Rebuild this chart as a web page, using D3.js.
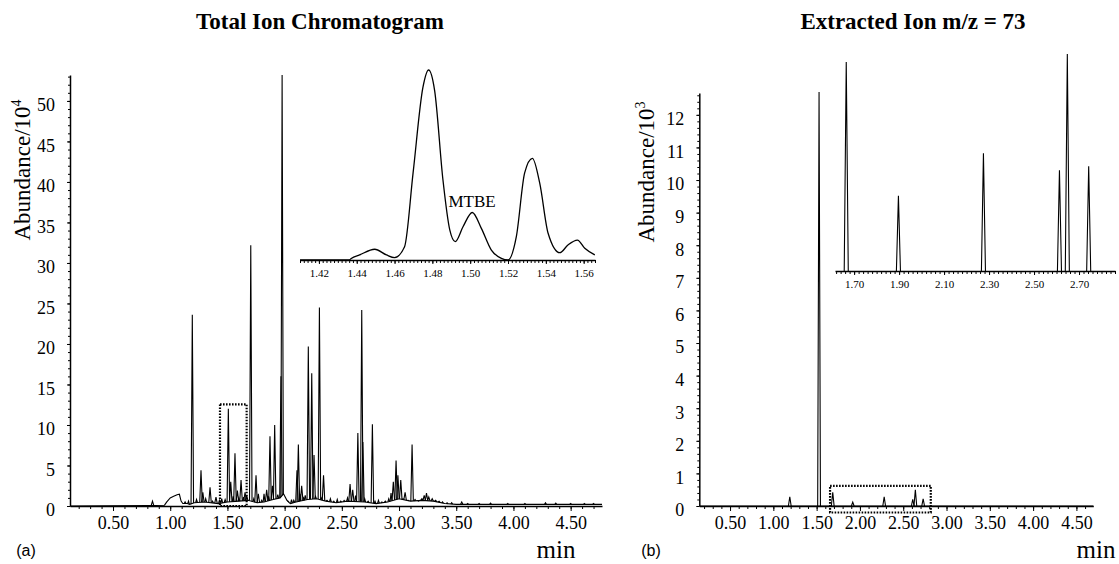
<!DOCTYPE html>
<html>
<head>
<meta charset="utf-8">
<script src="https://cdnjs.cloudflare.com/ajax/libs/d3/7.8.5/d3.min.js"></script>
<style>
body { margin: 0; background: #fff; }
svg text { font-family: "Liberation Serif", "Times New Roman", serif; fill: #000; }
.axis path, .axis line { stroke: #000; }
.axis text { font-family: "Liberation Serif", serif; }
</style>
</head>
<body>
<svg id="chart" width="1119" height="564"></svg>
<script>
// ---- data (a): total ion chromatogram, abundance in 10^4 ----
var ticBaseline = [[0.124,0],[0.80,0.05],[0.95,0.1],[0.97,0.5],[1.00,1.0],[1.03,1.2],[1.06,1.4],[1.08,1.45],
  [1.095,0.6],[1.11,0.3],[1.15,0.3],[1.17,0.2],[1.21,0.4],[1.30,0.5],[1.42,0.3],[1.50,0.5],[1.60,0.6],
  [1.68,0.7],[1.76,0.4],[1.82,0.5],[1.90,0.8],[1.96,1.0],[1.99,1.5],[2.02,0.7],[2.05,0.3],[2.10,0.5],
  [2.20,0.8],[2.28,0.9],[2.36,0.6],[2.45,0.4],[2.55,0.6],[2.70,0.5],[2.80,0.3],[2.90,0.5],[3.00,0.9],
  [3.10,0.6],[3.20,0.7],[3.30,0.6],[3.40,0.3],[3.50,0.2],[4.774,0.2]];
var ticPeaks = [[0.845,0.6],[1.193,23.6],[1.269,4.4],[1.285,1.7],[1.348,2.3],[1.40,1.1],[1.508,12.0],
  [1.529,3.0],[1.566,6.5],[1.587,1.9],[1.619,3.2],[1.654,1.7],[1.668,1.3],[1.704,32.2],[1.75,3.8],
  [1.77,1.5],[1.843,2.0],[1.872,8.6],[1.893,2.5],[1.913,10.0],[1.968,16.0],[1.978,53.2],[2.108,4.4],
  [2.12,7.6],[2.149,2.5],[2.207,19.7],[2.237,16.4],[2.257,6.3],[2.304,24.5],[2.34,3.8],[2.572,2.7],
  [2.595,2.0],[2.64,9.0],[2.674,24.2],[2.684,7.9],[2.767,10.1],[2.95,3.0],[2.974,5.6],[2.99,3.8],
  [3.015,3.2],[3.053,1.7],[3.114,7.6],[3.20,0.9],[3.22,1.3],[3.24,1.6],[3.26,1.1],[3.29,0.9],
  [3.32,0.7],[3.35,0.6],[3.548,0.5]];
var ticNoise = [[1.13,0.5],[1.16,0.6],[1.23,0.8],[1.31,0.9],[1.37,0.6],[1.43,0.7],[1.45,0.9],[1.48,0.8],
  [1.55,1.2],[1.60,1.0],[1.64,1.1],[1.73,0.9],[1.80,0.7],[1.82,1.5],[1.86,1.2],[1.94,1.4],[2.03,0.6],
  [2.06,0.8],[2.08,0.7],[2.135,1.5],[2.165,1.0],[2.18,1.3],[2.27,1.2],[2.32,1.0],[2.37,0.7],[2.40,0.9],
  [2.43,0.6],[2.46,0.8],[2.49,0.6],[2.52,0.7],[2.55,1.0],[2.62,1.3],[2.70,0.9],[2.73,0.6],[2.79,0.6],
  [2.82,0.7],[2.85,0.5],[2.88,0.6],[2.91,0.9],[2.93,1.6],[3.035,0.9],[3.08,0.7],[3.14,0.8],[3.17,0.6],
  [3.38,0.5],[3.42,0.4],[3.46,0.4],[3.60,0.3],[3.70,0.3],[3.80,0.35],[3.95,0.3],[4.10,0.3],[4.28,0.4],
  [4.37,0.35],[4.50,0.3],[4.62,0.3],[4.70,0.3]];
// zoomed trace around MTBE
var ticInset = [[1.410,0],[1.436,0],[1.4371,0.1],[1.4415,0.32],[1.4495,0.68],[1.4557,0.32],[1.460,0.15],
  [1.4653,0.84],[1.4698,5.5],[1.475,10.9],[1.478,12.0],[1.4812,10.7],[1.4856,5.05],[1.4892,1.9],
  [1.4921,1.16],[1.4962,2.1],[1.5011,3.0],[1.5059,2.0],[1.5112,0.63],[1.5165,0.1],[1.520,0],
  [1.5244,1.47],[1.5288,5.5],[1.5329,6.42],[1.5368,4.84],[1.5412,1.69],[1.5474,0.46],[1.5517,0.95],
  [1.5567,1.26],[1.5606,0.74],[1.5659,0.32]];
var ticBox = [1.435, 1.668, 0, 12.55];
var ticTicksX = [0.5, 1.0, 1.5, 2.0, 2.5, 3.0, 3.5, 4.0, 4.5];
var ticTicksY = [0, 5, 10, 15, 20, 25, 30, 35, 40, 45, 50];
var ticInsetTicks = [1.42, 1.44, 1.46, 1.48, 1.50, 1.52, 1.54, 1.56];
var mtbeLabel = [1.501, 3.0, "MTBE"];

// ---- data (b): extracted ion m/z = 73, abundance in 10^3 ----
var ionPeaks = [[1.19,0.28],[1.528,12.7],[1.686,0.42],[1.917,0.12],[2.28,0.28],[2.61,0.2],[2.64,0.5],[2.73,0.22]];
var ionInsetPeaks = [[1.665,0.626],[1.897,0.225],[2.275,0.353],[2.613,0.302],[2.648,0.65],[2.743,0.314]];
var ionBox = [1.655, 2.818, -0.2, 0.62];
var ionTicksX = [0.5, 1.0, 1.5, 2.0, 2.5, 3.0, 3.5, 4.0, 4.5];
var ionTicksY = [0, 1, 2, 3, 4, 5, 6, 7, 8, 9, 10, 11, 12];
var ionInsetTicks = [1.70, 1.90, 2.10, 2.30, 2.50, 2.70];

(function(){
    var svg = d3.select('#chart');
    var f2 = d3.format('.2f');

    // draws bottom axis with minor ticks and labelled major ticks
    function xAxis(g, x, y, minors, majors, fs, majLen) {
        g.append('g').attr('class', 'axis').attr('transform', 'translate(0,' + y + ')')
            .call(d3.axisBottom(x).tickValues(minors).tickSize(3).tickSizeOuter(0).tickFormat(''))
            .call(function(a){ a.select('.domain').attr('stroke-width', 1.5); });
        var m = g.append('g').attr('class', 'axis').attr('transform', 'translate(0,' + y + ')')
            .call(d3.axisBottom(x).tickValues(majors).tickSize(majLen).tickSizeOuter(0).tickFormat(f2));
        m.select('.domain').remove();
        m.selectAll('text').attr('font-size', fs).attr('dy', fs < 14 ? '0.9em' : '0.85em');
    }

    function yAxis(g, y, xpos, minors, majors) {
        g.append('g').attr('class', 'axis').attr('transform', 'translate(' + xpos + ',0)')
            .call(d3.axisLeft(y).tickValues(minors).tickSize(2).tickSizeOuter(0).tickFormat(''))
            .call(function(a){ a.select('.domain').attr('stroke-width', 1.5); });
        var m = g.append('g').attr('class', 'axis').attr('transform', 'translate(' + xpos + ',0)')
            .call(d3.axisLeft(y).tickValues(majors).tickSize(3).tickSizeOuter(0).tickPadding(12));
        m.select('.domain').remove();
        m.selectAll('text').attr('font-size', 18).attr('dy', '0.55em');
    }

    // one narrow peak drawn as a spike over the local baseline
    function spikes(g, data, x, y, w, base) {
        var line = d3.line();
        g.selectAll(null).data(data).enter().append('path')
            .attr('d', function(p) {
                return line([[x(p[0] - w), y(base(p[0] - w))], [x(p[0]), y(p[1])], [x(p[0] + w), y(base(p[0] + w))]]);
            })
            .attr('fill', 'none').attr('stroke', '#000').attr('stroke-width', 1.1)
            .attr('stroke-linejoin', 'miter');
    }

    function box(g, b, x, y) {
        g.append('rect')
            .attr('x', x(b[0])).attr('y', y(b[3]))
            .attr('width', x(b[1]) - x(b[0])).attr('height', y(b[2]) - y(b[3]))
            .attr('fill', 'none').attr('stroke', '#000').attr('stroke-width', 2.2)
            .attr('stroke-dasharray', '1.6,1.4');
    }

    function yLabel(g, cx, cy, sup) {
        var t = g.append('text').attr('transform', 'translate(' + cx + ',' + cy + ') rotate(-90)')
            .attr('text-anchor', 'middle').attr('font-size', 23);
        t.append('tspan').text('Abundance/10');
        t.append('tspan').attr('font-size', 14).attr('dy', -9).text(sup);
    }

    var zero = function(){ return 0; };

    // ---------- panel (a) ----------
    var ga = svg.append('g');
    var xa = d3.scaleLinear().domain([0.124, 4.774]).range([70, 602]);
    var ya = d3.scaleLinear().domain([0, 53.2]).range([506, 75]);
    var baseA = d3.scaleLinear().domain(ticBaseline.map(function(d){ return d[0]; }))
        .range(ticBaseline.map(function(d){ return d[1]; }));

    ga.append('path').datum(ticBaseline)
        .attr('d', d3.line().x(function(d){ return xa(d[0]); }).y(function(d){ return ya(d[1]); }))
        .attr('fill', 'none').attr('stroke', '#000').attr('stroke-width', 1.1);
    spikes(ga, ticNoise, xa, ya, 0.008, baseA);
    spikes(ga, ticPeaks, xa, ya, 0.011, baseA);
    box(ga, ticBox, xa, ya);

    xAxis(ga, xa, 506, d3.range(0.2, 4.75, 0.1), ticTicksX, 18, 5);
    yAxis(ga, ya, 70, d3.range(0, 53.1, 1), ticTicksY);
    yLabel(ga, 30, 170, '4');

    // inset (a)
    var xia = d3.scaleLinear().domain([1.41, 1.566]).range([300, 595]);
    var yia = d3.scaleLinear().domain([0, 12]).range([260, 70]);
    ga.append('path').datum(ticInset)
        .attr('d', d3.line().curve(d3.curveMonotoneX)
            .x(function(d){ return xia(d[0]); }).y(function(d){ return yia(d[1]); }))
        .attr('fill', 'none').attr('stroke', '#000').attr('stroke-width', 1.3);
    xAxis(ga, xia, 260, d3.range(1.41, 1.5661, 0.002), ticInsetTicks, 11, 4);
    ga.append('text').attr('x', xia(mtbeLabel[0])).attr('y', yia(mtbeLabel[1]) - 6)
        .attr('text-anchor', 'middle').attr('font-size', 17).text(mtbeLabel[2]);

    ga.append('text').attr('x', 320).attr('y', 29).attr('text-anchor', 'middle')
        .attr('font-size', 23).attr('font-weight', 'bold').text('Total Ion Chromatogram');
    ga.append('text').attr('x', 556).attr('y', 558).attr('text-anchor', 'middle')
        .attr('font-size', 25).text('min');
    ga.append('text').attr('x', 26).attr('y', 556).attr('text-anchor', 'middle')
        .attr('font-size', 16).style('font-family', '"Liberation Sans", Arial, sans-serif').text('(a)');

    // ---------- panel (b) ----------
    var gb = svg.append('g');
    var xb = d3.scaleLinear().domain([0.145, 4.695]).range([699.3, 1093.3]);
    var yb = d3.scaleLinear().domain([0, 12.67]).range([506, 93]);

    gb.append('path').datum(xb.domain())
        .attr('d', function(d){ return d3.line()([[xb(d[0]), yb(0)], [xb(d[1]), yb(0)]]); })
        .attr('stroke', '#000').attr('stroke-width', 1.1);
    spikes(gb, ionPeaks, xb, yb, 0.016, zero);
    box(gb, ionBox, xb, yb);

    xAxis(gb, xb, 506, d3.range(0.2, 4.65, 0.1), ionTicksX, 18, 5);
    yAxis(gb, yb, 699.3, d3.range(0, 12.65, 0.2), ionTicksY);
    yLabel(gb, 654, 172, '3');

    // inset (b)
    var xib = d3.scaleLinear().domain([1.615, 2.86]).range([835, 1115]);
    var yib = d3.scaleLinear().domain([0, 0.65]).range([271, 54]);
    spikes(gb, ionInsetPeaks, xib, yib, 0.009, zero);
    xAxis(gb, xib, 271, d3.range(1.62, 2.861, 0.02), ionInsetTicks, 11, 4);

    gb.append('text').attr('x', 913).attr('y', 29).attr('text-anchor', 'middle')
        .attr('font-size', 23).attr('font-weight', 'bold').text('Extracted Ion m/z = 73');
    gb.append('text').attr('x', 1096).attr('y', 558).attr('text-anchor', 'middle')
        .attr('font-size', 25).text('min');
    gb.append('text').attr('x', 651).attr('y', 556).attr('text-anchor', 'middle')
        .attr('font-size', 16).style('font-family', '"Liberation Sans", Arial, sans-serif').text('(b)');
})();
</script>
</body>
</html>
